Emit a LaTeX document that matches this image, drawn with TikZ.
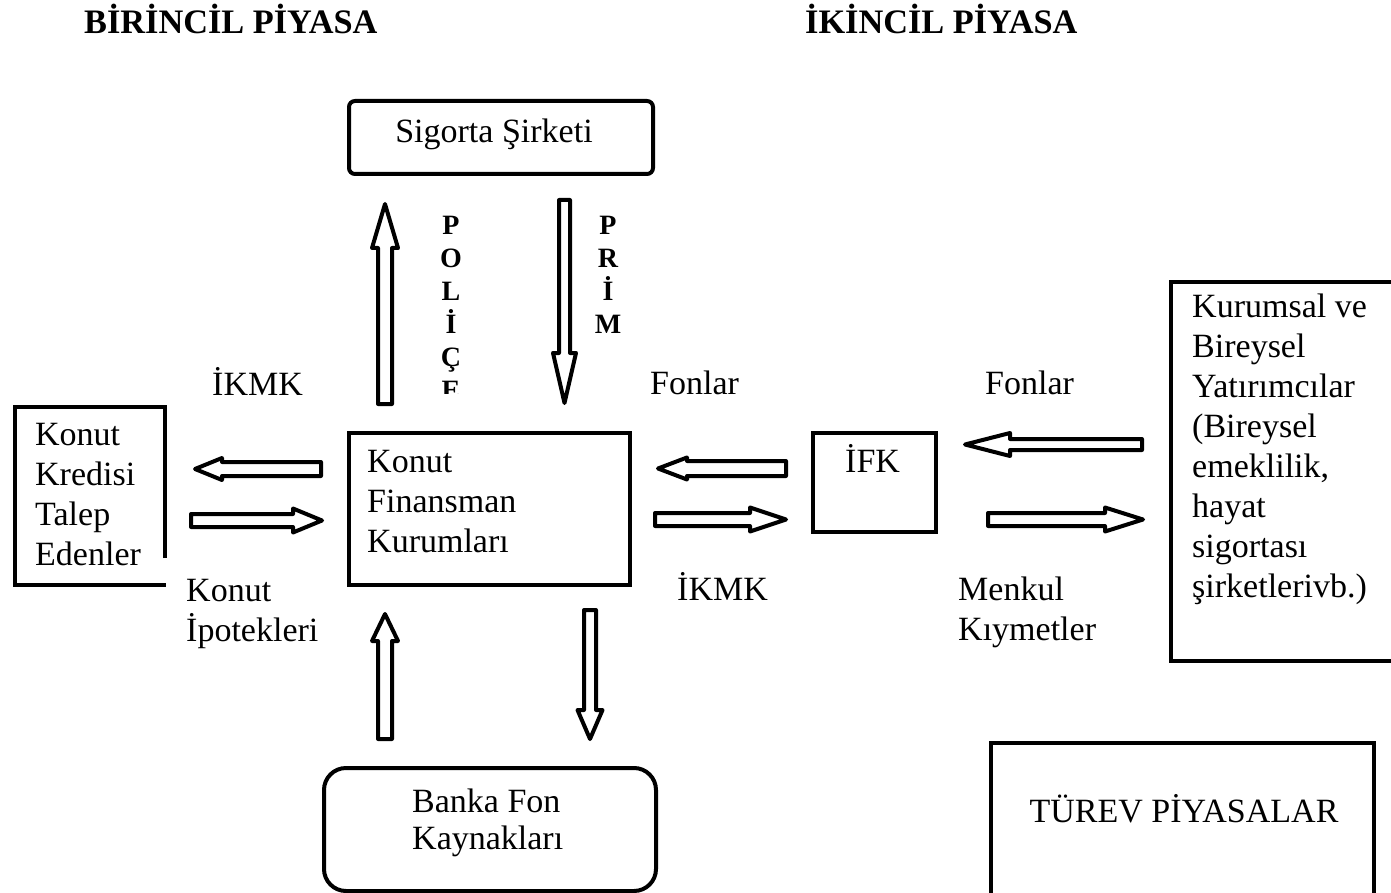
\documentclass[tikz,border=0pt]{standalone}
\usepackage{fontspec}
\setmainfont{Liberation Serif}
\usetikzlibrary{calc}

% hollow block arrow from #1 (tail) to #2 (tip):
% #3 half shaft width, #4 half head width, #5 head length
\newcommand{\blockarrow}[5]{%
  \path ($(#2)!#5!(#1)$) coordinate (#2-base);
  \draw[hollowarrow] ($(#1)!#3!90:(#2)$) -- ($(#2-base)!#3!90:(#2)$)
    -- ($(#2-base)!#4!90:(#2)$) -- (#2) -- ($(#2-base)!#4!-90:(#2)$)
    -- ($(#2-base)!#3!-90:(#2)$) -- ($(#1)!#3!-90:(#2)$) -- cycle;}

\begin{document}
\begin{tikzpicture}[x=1pt,y=-1pt,
  frame/.style={draw, line width=4pt, inner sep=0pt},
  txt/.style={inner sep=0pt, anchor=base west, align=left,
    font=\fontsize{34}{40}\selectfont},
  heading/.style={inner sep=0pt, anchor=base west,
    font=\fontsize{34.3}{40}\selectfont\bfseries},
  vert/.style={inner sep=0pt, anchor=base, align=center,
    font=\fontsize{28}{33}\selectfont\bfseries},
  hollowarrow/.style={draw, line width=4pt, line join=round, fill=white}]
\clip (0,0) rectangle (1391,893);
\fill[white] (0,0) rectangle (1391,893);

% headings
\node[heading] (h1) at (84,34) {BİRİNCİL PİYASA};
\node[heading] (h2) at (805,34) {İKİNCİL PİYASA};

% insurance company
\node[frame, rounded corners=6pt, minimum width=304pt, minimum height=73pt] (sig) at (501,137.5) {};
\node[txt, anchor=base] (sigt) at (494,143) {Sigorta Şirketi};

% vertical labels (multi-line nodes sit on their last baseline)
\begin{scope}
  \clip (420,190) rectangle (490,393);
  \node[vert] (pol) at (451,399) {P\\O\\L\\İ\\Ç\\E};
\end{scope}
\node[vert] (prim) at (608,333) {P\\R\\İ\\M};

% flow labels
\node[txt] (ikmk1) at (212,395) {İKMK};
\node[txt] (fon1) at (650,394) {Fonlar};
\node[txt] (fon2) at (985,394) {Fonlar};
\node[txt] (ipotek) at (186,641) {Konut\\İpotekleri};
\node[txt] (ikmk2) at (677,600) {İKMK};
\node[txt] (menkul) at (958,640) {Menkul\\Kıymetler};

% loan applicants (box open at the lower right corner)
\node[minimum width=150pt, minimum height=178pt, inner sep=0pt] (kkt) at (90,496) {};
\draw[line width=4pt] ([yshift=27pt]kkt.south east) -- (kkt.north east)
  -- (kkt.north west) -- (kkt.south west) -- ([xshift=1pt]kkt.south east);
\node[txt] (kktt) at (35,565) {Konut\\Kredisi\\Talep\\Edenler};

% housing finance institutions
\node[frame, minimum width=281pt, minimum height=152pt] (kfk) at (489.5,509) {};
\node[txt] (kfkt) at (367,552) {Konut\\Finansman\\Kurumları};

% IFK
\node[frame, minimum width=123pt, minimum height=99pt] (ifk) at (874.5,482.5) {};
\node[txt] (ifkt) at (845,472) {İFK};

% investors
\node[frame, minimum width=229pt, minimum height=379pt] (yat) at (1285.5,471.5) {};
\node[txt] (yatt) at (1192,597) {Kurumsal ve\\Bireysel\\Yatırımcılar\\(Bireysel\\emeklilik,\\hayat\\sigortası\\şirketlerivb.)};

% bank funds
\node[frame, rounded corners=22pt, minimum width=332pt, minimum height=123pt] (bfk) at (490,829.5) {};
\node[txt, font=\fontsize{34}{37}\selectfont] (bfkt) at (412,849) {Banka Fon\\Kaynakları};

% derivatives
\node[frame, minimum width=383pt, minimum height=160pt] (tur) at (1182.5,823) {};
\node[txt, anchor=base] (turt) at (1184,822) {TÜREV PİYASALAR};

% arrow end points
\coordinate (a1t) at (321,469);   \coordinate (a1h) at (195,469);
\coordinate (a2t) at (191,520.5); \coordinate (a2h) at (322,520.5);
\coordinate (a3t) at (786,468.5); \coordinate (a3h) at (658,468.5);
\coordinate (a4t) at (655,519.5); \coordinate (a4h) at (786,519.5);
\coordinate (a5t) at (1142,444.5);\coordinate (a5h) at (965,444.5);
\coordinate (a6t) at (988,519.5); \coordinate (a6h) at (1143,519.5);
\coordinate (a7t) at (385,404);   \coordinate (a7h) at (385,204);
\coordinate (a8t) at (564.5,200); \coordinate (a8h) at (564.5,403);
\coordinate (a9t) at (385,739);   \coordinate (a9h) at (385,614);
\coordinate (a10t) at (590,610);  \coordinate (a10h) at (590,739);

\blockarrow{a1t}{a1h}{7pt}{11pt}{27pt}
\blockarrow{a2t}{a2h}{6.5pt}{12pt}{29pt}
\blockarrow{a3t}{a3h}{7.5pt}{11pt}{29pt}
\blockarrow{a4t}{a4h}{6.5pt}{12pt}{36pt}
\blockarrow{a5t}{a5h}{5.5pt}{11.5pt}{45pt}
\blockarrow{a6t}{a6h}{6.5pt}{12pt}{38pt}
\blockarrow{a7t}{a7h}{7pt}{13pt}{44pt}
\blockarrow{a8t}{a8h}{5.5pt}{11.5pt}{50pt}
\blockarrow{a9t}{a9h}{7pt}{13pt}{27pt}
\blockarrow{a10t}{a10h}{6pt}{12.5pt}{29pt}
\end{tikzpicture}
\end{document}
